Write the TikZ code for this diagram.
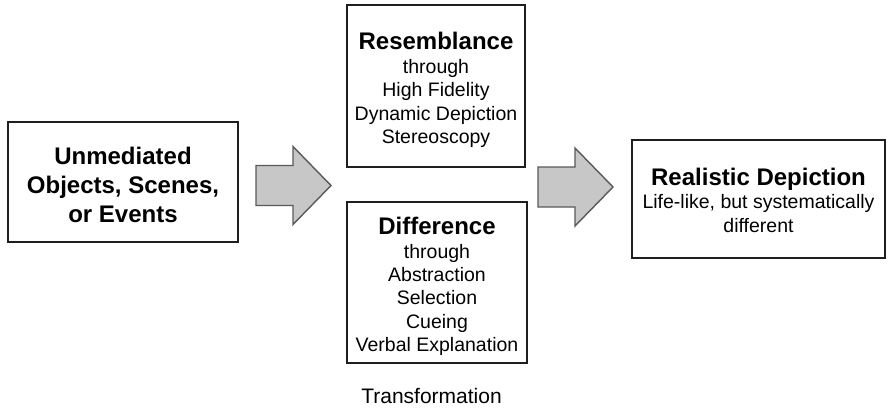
\documentclass[tikz,border=0pt]{standalone}
\usepackage{fontspec}
\setmainfont{Liberation Sans}
\usetikzlibrary{positioning}

\begin{document}
\begin{tikzpicture}[
    x=1pt, y=-1pt,
    box/.style={draw=black!88, line width=1.8pt, inner sep=0pt},
    title/.style={align=center, font=\bfseries\fontsize{24}{28.8}\selectfont},
    body/.style={align=center, font=\fontsize{19.5}{23.4}\selectfont},
    blockarrow/.style={draw=black!65, line width=1.4pt, fill=black!22, line join=miter}
]
\useasboundingbox (0,0) rectangle (889,408);

% the four boxes
\node[box, minimum width=230, minimum height=120] (src) at (123,182) {};
\node[box, minimum width=178, minimum height=162] (res) at (436,86) {};
\node[box, minimum width=180, minimum height=161] (dif) at (437,282.5) {};
\node[box, minimum width=253, minimum height=118] (real) at (758.5,199) {};

% their texts
\node[title, yshift=-3] (srcText) at (src.center) {Unmediated\\Objects, Scenes,\\or Events};
\node[body, yshift=-4] (resText) at (res.center)
    {{\bfseries\fontsize{24}{24}\selectfont Resemblance}\\through\\High Fidelity\\Dynamic Depiction\\Stereoscopy};
\node[body, yshift=-4] (difText) at (dif.center)
    {{\bfseries\fontsize{24}{24}\selectfont Difference}\\through\\Abstraction\\Selection\\Cueing\\Verbal Explanation};
\node[body, yshift=-1] (realText) at (real.center)
    {{\bfseries\fontsize{24}{24}\selectfont Realistic Depiction}\\Life-like, but systematically\\different};

\node[anchor=base, font=\fontsize{21}{25}\selectfont] (trans) at (431.5,403) {Transformation};

% block arrows between the columns
\foreach \ax/\ay in {256/185.5, 538/187}
    \draw[blockarrow] (\ax,\ay-20) -- ++(37,0) -- ++(0,-19) -- ++(38,39)
        -- ++(-38,39) -- ++(0,-19) -- ++(-37,0) -- cycle;

\end{tikzpicture}
\end{document}
